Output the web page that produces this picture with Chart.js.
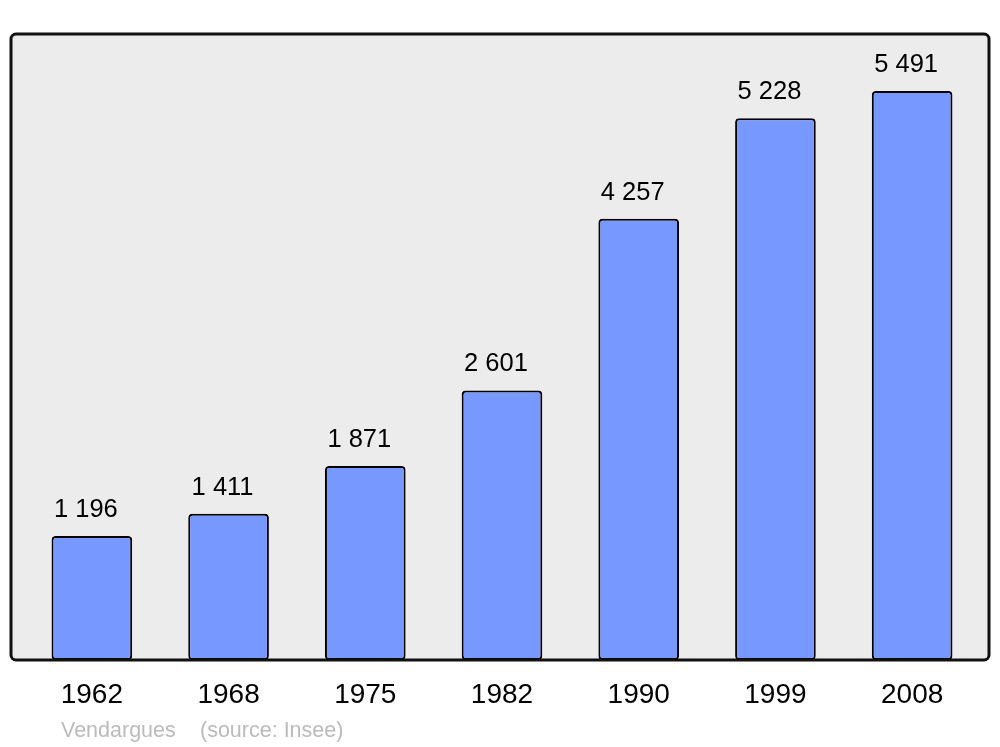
<!DOCTYPE html>
<html lang="fr">
<head>
  <meta charset="UTF-8" />
  <title>Vendargues population</title>
  <script src="https://cdn.jsdelivr.net/npm/chart.js"></script>
  <style>
    body { margin: 0; background: #fff; }
    #wrap { width: 1000px; height: 747px; }
  </style>
</head>
<body>
  <div id="wrap"><canvas id="chart"></canvas></div>
  <script>
    const years = ['1962', '1968', '1975', '1982', '1990', '1999', '2008'];
    const population = [1196, 1411, 1871, 2601, 4257, 5228, 5491];
    const sourceText = ['Vendargues', '(source: Insee)'];

    const fmt = n => String(n).replace(/\B(?=(\d{3})+(?!\d))/g, ' ');

    // rounded grey panel behind the bars, border drawn on top of them
    function panelPath(chart) {
      const { ctx, chartArea } = chart;
      const x0 = chartArea.left - 12.5, x1 = chartArea.right + 8.5;
      ctx.beginPath();
      ctx.roundRect(x0, chartArea.top, x1 - x0, chartArea.bottom - chartArea.top, 5);
    }

    const panelPlugin = {
      id: 'panel',
      beforeDraw(chart) {
        const ctx = chart.ctx;
        ctx.save();
        panelPath(chart);
        ctx.fillStyle = '#ececec';
        ctx.fill();
        ctx.restore();
      },
      afterDatasetsDraw(chart) {
        const ctx = chart.ctx;
        ctx.save();
        panelPath(chart);
        ctx.lineWidth = 3;
        ctx.strokeStyle = '#111';
        ctx.stroke();

        ctx.font = '25.5px "Liberation Sans", Arial, sans-serif';
        ctx.fillStyle = '#000';
        ctx.textAlign = 'center';
        ctx.textBaseline = 'alphabetic';
        chart.getDatasetMeta(0).data.forEach((bar, i) => {
          ctx.fillText(fmt(population[i]), bar.x - 6, bar.y - 19);
        });

        ctx.font = '21.5px "Liberation Sans", Arial, sans-serif';
        ctx.fillStyle = '#bbbbbb';
        ctx.textAlign = 'left';
        ctx.fillText(sourceText[0], 61, 737);
        ctx.fillText(sourceText[1], 200, 737);
        ctx.restore();
      }
    };

    new Chart(document.getElementById('chart'), {
      type: 'bar',
      data: {
        labels: years,
        datasets: [{
          data: population,
          backgroundColor: '#7799ff',
          borderColor: '#000',
          borderWidth: 2,
          borderRadius: 4,
          borderSkipped: false,
          barPercentage: 0.59,
          categoryPercentage: 1
        }]
      },
      options: {
        responsive: true,
        maintainAspectRatio: false,
        animation: false,
        layout: { padding: { left: 23.5, right: 19.5, top: 34, bottom: 0 } },
        plugins: { legend: { display: false }, tooltip: { enabled: false } },
        scales: {
          x: {
            grid: { display: false },
            border: { display: false },
            ticks: {
              color: '#000',
              padding: 10,
              font: { family: '"Liberation Sans", Arial, sans-serif', size: 28 }
            },
            afterFit: s => { s.height = 87; }
          },
          y: {
            display: false,
            min: 0,
            max: 6040
          }
        }
      },
      plugins: [panelPlugin]
    });
  </script>
</body>
</html>
